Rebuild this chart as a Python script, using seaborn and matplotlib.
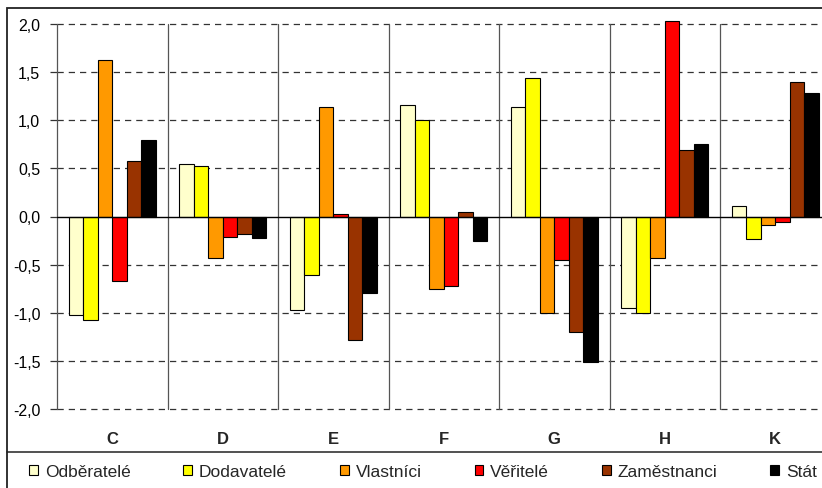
import matplotlib
matplotlib.use("Agg")
import matplotlib.pyplot as plt
from matplotlib.patches import Rectangle
from matplotlib.lines import Line2D
from matplotlib.ticker import FuncFormatter
import numpy as np
import pandas as pd
import seaborn as sns

# Sectors (categories on the x axis)
categories = ["C", "D", "E", "F", "G", "H", "K"]

# Stakeholder groups (legend order)
series = ["Odběratelé", "Dodavatelé", "Vlastníci", "Věřitelé", "Zaměstnanci", "Stát"]

# Values per stakeholder group, one entry per sector
odberatele  = [-1.02,  0.55, -0.97,  1.16,  1.14, -0.95,  0.11]
dodavatele  = [-1.08,  0.52, -0.61,  1.00,  1.44, -1.00, -0.23]
vlastnici   = [ 1.63, -0.43,  1.14, -0.75, -1.00, -0.43, -0.09]
veritele    = [-0.67, -0.21,  0.03, -0.72, -0.45,  2.03, -0.06]
zamestnanci = [ 0.58, -0.18, -1.28,  0.05, -1.20,  0.69,  1.40]
stat        = [ 0.79, -0.22, -0.79, -0.25, -1.51,  0.75,  1.28]

y_ticks = [-2.0, -1.5, -1.0, -0.5, 0.0, 0.5, 1.0, 1.5, 2.0]

colors = ["#FFFFCC", "#FFFF00", "#FF9900", "#FF0000", "#993300", "#000000"]

values = [odberatele, dodavatele, vlastnici, veritele, zamestnanci, stat]
df = pd.DataFrame({
    "sektor": np.tile(categories, len(series)),
    "skupina": np.repeat(series, len(categories)),
    "hodnota": np.concatenate(values),
})

sns.set_theme(style="white")
plt.rcParams["font.family"] = ["Liberation Sans", "DejaVu Sans"]

W, H = 822, 489
fig = plt.figure(figsize=(W / 100, H / 100), dpi=100)

# axes geometry in pixels
px_left, px_y2, px_ym2 = 57, 25, 410
group_px = 110.5
ylo, yhi = -2.0, 2.05
ppu = (px_ym2 - px_y2) / 4.0
px_top = px_y2 - (yhi - 2.0) * ppu
ax = fig.add_axes([px_left / W, 1 - px_ym2 / H,
                   7 * group_px / W, (px_ym2 - px_top) / H])

sns.barplot(data=df, x="sektor", y="hodnota", hue="skupina",
            order=categories, hue_order=series, palette=colors,
            saturation=1, width=0.79, edgecolor="black", linewidth=0.8,
            errorbar=None, ax=ax, zorder=3)

ax.set_xlim(-0.5, len(categories) - 0.5)
ax.set_ylim(ylo, yhi)

# dashed horizontal gridlines
for y in y_ticks:
    if y == 0:
        continue
    ax.plot([-0.5, len(categories) - 0.5], [y, y], color="#333333",
            lw=0.9, ls=(0, (5, 4)), zorder=1, clip_on=False)
# category separators
for i in range(len(categories) + 1):
    ax.plot([i - 0.5, i - 0.5], [-2.0, 2.0], color="#555555", lw=0.9,
            zorder=1, clip_on=False)
# zero line
ax.axhline(0, color="black", lw=1.0, zorder=4)

for s in ax.spines.values():
    s.set_visible(False)

ax.set_yticks(y_ticks)
ax.yaxis.set_major_formatter(FuncFormatter(lambda v, p: f"{v:.1f}".replace(".", ",")))
ax.tick_params(axis="y", which="major", direction="out", length=5, width=0.9,
               color="#333333", labelsize=11.5, pad=7, left=True)
ax.tick_params(axis="x", length=0, pad=16, labelsize=12)
for lbl in ax.get_xticklabels():
    lbl.set_fontweight("bold")
for lbl in ax.get_yticklabels():
    lbl.set_color("black")
ax.set_xlabel("")
ax.set_ylabel("")

handles, labels = ax.get_legend_handles_labels()
ax.get_legend().remove()
fig.legend(handles, labels, loc="center", ncol=6, frameon=False,
           bbox_to_anchor=(423 / W, 1 - 473 / H), fontsize=12.5,
           handlelength=0.5, handleheight=0.5, handletextpad=0.4,
           columnspacing=3.05, borderaxespad=0)

# chart frame and separator above the legend
fig.add_artist(Rectangle((7 / W, -0.05), 1.2, 1 - 9 / H + 0.05,
                         transform=fig.transFigure, fill=False,
                         edgecolor="#222222", lw=1.3))
fig.add_artist(Line2D([7 / W, 1.0], [1 - 453 / H, 1 - 453 / H],
                      transform=fig.transFigure, color="#222222", lw=1.1))

fig.savefig("out.png", dpi=100)
